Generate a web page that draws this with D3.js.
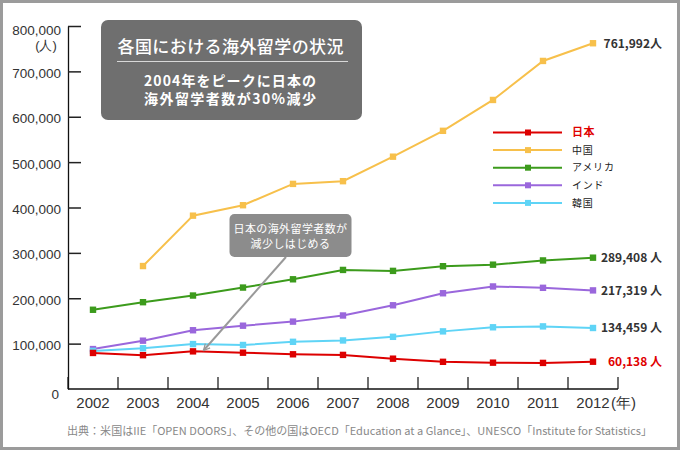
<!DOCTYPE html>
<html><head><meta charset="utf-8">
<script src="https://cdn.jsdelivr.net/npm/d3@7"></script>
<style>
html,body{margin:0;padding:0;background:#fff;}
svg{display:block;}
</style></head>
<body>
<svg id="c" width="680" height="450"></svg>
<script>
const years = [2002,2003,2004,2005,2006,2007,2008,2009,2010,2011,2012];
const japan = [79455,74551,82945,80023,76492,75156,66833,59923,58060,57501,60138];
const china = [null,271000,382000,405000,452000,458000,512000,569000,637000,723000,761992];
const usa   = [174629,191321,205983,223534,241791,262416,260327,270604,273996,283332,289408];
const india = [88000,106500,129500,139500,148500,162000,184500,211000,226000,223000,217319];
const korea = [84000,89800,99000,97000,104000,107000,115000,127000,136000,138000,134459];
const seriesNames = ["日本","中国","アメリカ","インド","韓国"];
const seriesColors = ["#dd0000","#f7c04b","#3c9b1c","#9a67dc","#5fd4f6"];
const endLabels = ["60,138 人","761,992人","289,408 人","217,319 人","134,459 人"];
const yTicks = [0,100000,200000,300000,400000,500000,600000,700000,800000];
const titleText = "各国における海外留学の状況";
const subLines = ["2004年をピークに日本の","海外留学者数が30%減少"];
const noteLines = ["日本の海外留学者数が","減少しはじめる"];
const sourceText = "出典：米国はIIE「OPEN DOORS」、その他の国はOECD「Education at a Glance」、UNESCO「Institute for Statistics」";

const allSeries = [japan,china,usa,india,korea];
const JP = "'Noto Sans CJK JP','Noto Sans',sans-serif";
const NUM = "'Liberation Sans Narrow','Liberation Sans',Arial,sans-serif";

const svg = d3.select("#c");
svg.append("rect").attr("x",1.5).attr("y",1.5).attr("width",677).attr("height",447)
  .attr("fill","#fff").attr("stroke","#9b9b9b").attr("stroke-width",3);

const x = d3.scaleBand().domain(years).range([68,618]);
const bw = x.bandwidth();
const cx = d => x(d) + bw/2;
const y = d3.scaleLinear().domain([0,800000]).range([389,26]);

// y axis
const yAxis = d3.axisLeft(y).tickValues(yTicks).tickSizeInner(-13).tickSizeOuter(0).tickPadding(7)
  .tickFormat(d3.format(","));
const yg = svg.append("g").attr("transform","translate(68,0)").call(yAxis);
yg.select(".domain").attr("stroke","#111").attr("stroke-width",1.3);
yg.selectAll(".tick line").attr("stroke","#222").attr("stroke-width",1.5);
yg.selectAll(".tick").filter(d=>d===0).select("line").remove();
yg.selectAll(".tick text").attr("font-family",NUM).attr("font-size",13.5).attr("fill","#333")
  .attr("dy", d => d===800000 ? "0.62em" : (d===0 ? "0.7em" : "0.45em"));
yg.selectAll(".tick").filter(d=>d===0).select("text").attr("x",-9);
svg.append("text").attr("x",46).attr("y",50).attr("text-anchor","middle")
  .attr("font-family",NUM).attr("font-size",13).attr("fill","#333").text("(人)");

// x axis
svg.append("line").attr("x1",68).attr("x2",618).attr("y1",y(0)).attr("y2",y(0))
  .attr("stroke","#111").attr("stroke-width",1.3);
svg.append("g").selectAll("line").data(years.concat(["end"])).join("line")
  .attr("x1",d=>d==="end"? x(years[years.length-1])+bw : x(d))
  .attr("x2",d=>d==="end"? x(years[years.length-1])+bw : x(d))
  .attr("y1",y(0)).attr("y2",y(0)-12).attr("stroke","#111").attr("stroke-width",1.2);
const xAxis = d3.axisBottom(x).tickSize(0).tickPadding(8);
const xg = svg.append("g").attr("transform",`translate(0,${y(0)})`).call(xAxis);
xg.select(".domain").remove();
xg.selectAll(".tick text").attr("font-family",NUM).attr("font-size",15).attr("fill","#333");
svg.append("text").attr("x",611).attr("y",408).attr("font-family",NUM).attr("font-size",15)
  .attr("fill","#333").text("(年)");

// lines
const line = d3.line().defined(d=>d.v!==null).x(d=>cx(d.year)).y(d=>y(d.v));
const drawOrder = [1,2,3,4,0];
drawOrder.forEach(i=>{
  const data = years.map((yr,k)=>({year:yr, v:allSeries[i][k]}));
  const g = svg.append("g");
  g.append("path").datum(data).attr("d",line).attr("fill","none")
    .attr("stroke",seriesColors[i]).attr("stroke-width",2);
  g.selectAll("rect").data(data.filter(d=>d.v!==null)).join("rect")
    .attr("x",d=>cx(d.year)-3.2).attr("y",d=>y(d.v)-3.2).attr("width",6.4).attr("height",6.4)
    .attr("fill",seriesColors[i]);
  const last = data[data.length-1];
  svg.append("text").attr("x",662).attr("y",y(last.v)).attr("dy","0.36em").attr("text-anchor","end")
    .attr("font-family",JP).attr("font-weight","bold").attr("font-size",12)
    .attr("fill", i===0 ? "#e00000" : "#333").text(endLabels[i]);
});

// legend
const lg = svg.append("g");
seriesNames.forEach((n,i)=>{
  const ly = 132.5 + i*17.6;
  lg.append("line").attr("x1",493).attr("x2",562).attr("y1",ly).attr("y2",ly)
    .attr("stroke",seriesColors[i]).attr("stroke-width",2);
  lg.append("rect").attr("x",525).attr("y",ly-3).attr("width",6).attr("height",6).attr("fill",seriesColors[i]);
  lg.append("text").attr("x",572).attr("y",ly).attr("dy","0.36em")
    .attr("font-family",JP).attr("font-size", i===0?11:10).attr("font-weight", i===0?"bold":"normal")
    .attr("letter-spacing", i===0?0.5:0.8)
    .attr("fill", i===0?"#e00000":"#222").text(n);
});

// title box
svg.append("rect").attr("x",101).attr("y",20).attr("width",261).attr("height",100).attr("rx",7)
  .attr("fill","#6f6f6f");
svg.append("text").attr("x",230.5).attr("y",46.5).attr("dy","0.36em").attr("text-anchor","middle")
  .attr("font-family",JP).attr("font-size",17).attr("font-weight",500).attr("fill","#fff")
  .attr("textLength",226).attr("lengthAdjust","spacing").text(titleText);
svg.append("line").attr("x1",117).attr("x2",348).attr("y1",61.5).attr("y2",61.5)
  .attr("stroke","#d8d8d8").attr("stroke-width",1);
subLines.forEach((t,i)=>{
  svg.append("text").attr("x",230).attr("y",80.7 + i*18.2).attr("dy","0.36em").attr("text-anchor","middle")
    .attr("font-family",JP).attr("font-size",14).attr("font-weight","bold").attr("fill","#fff")
    .attr("textLength",172).attr("lengthAdjust","spacing").text(t);
});

// annotation
svg.append("defs").append("marker").attr("id","ah").attr("viewBox","0 0 10 10")
  .attr("refX",9).attr("refY",5).attr("markerWidth",8).attr("markerHeight",8)
  .attr("markerUnits","userSpaceOnUse").attr("orient","auto")
  .append("path").attr("d","M1,1 L9,5 L1,9").attr("fill","none").attr("stroke","#999").attr("stroke-width",1.6);
svg.append("line").attr("x1",286).attr("y1",257).attr("x2",203.5).attr("y2",350.5)
  .attr("stroke","#999").attr("stroke-width",2).attr("marker-end","url(#ah)");
svg.append("rect").attr("x",229.5).attr("y",214).attr("width",122).attr("height",43).attr("rx",5)
  .attr("fill","#8c8c8c");
noteLines.forEach((t,i)=>{
  svg.append("text").attr("x",290.5).attr("y",229 + i*15).attr("dy","0.36em").attr("text-anchor","middle")
    .attr("font-family",JP).attr("font-size",11).attr("fill","#fff").attr("letter-spacing",0.4).text(t);
});

// source
svg.append("text").attr("x",67).attr("y",431.5).attr("dy","0.36em")
  .attr("font-family",JP).attr("font-size",11).attr("fill","#888")
  .attr("textLength",585).attr("lengthAdjust","spacingAndGlyphs").text(sourceText);
</script>
</body></html>
